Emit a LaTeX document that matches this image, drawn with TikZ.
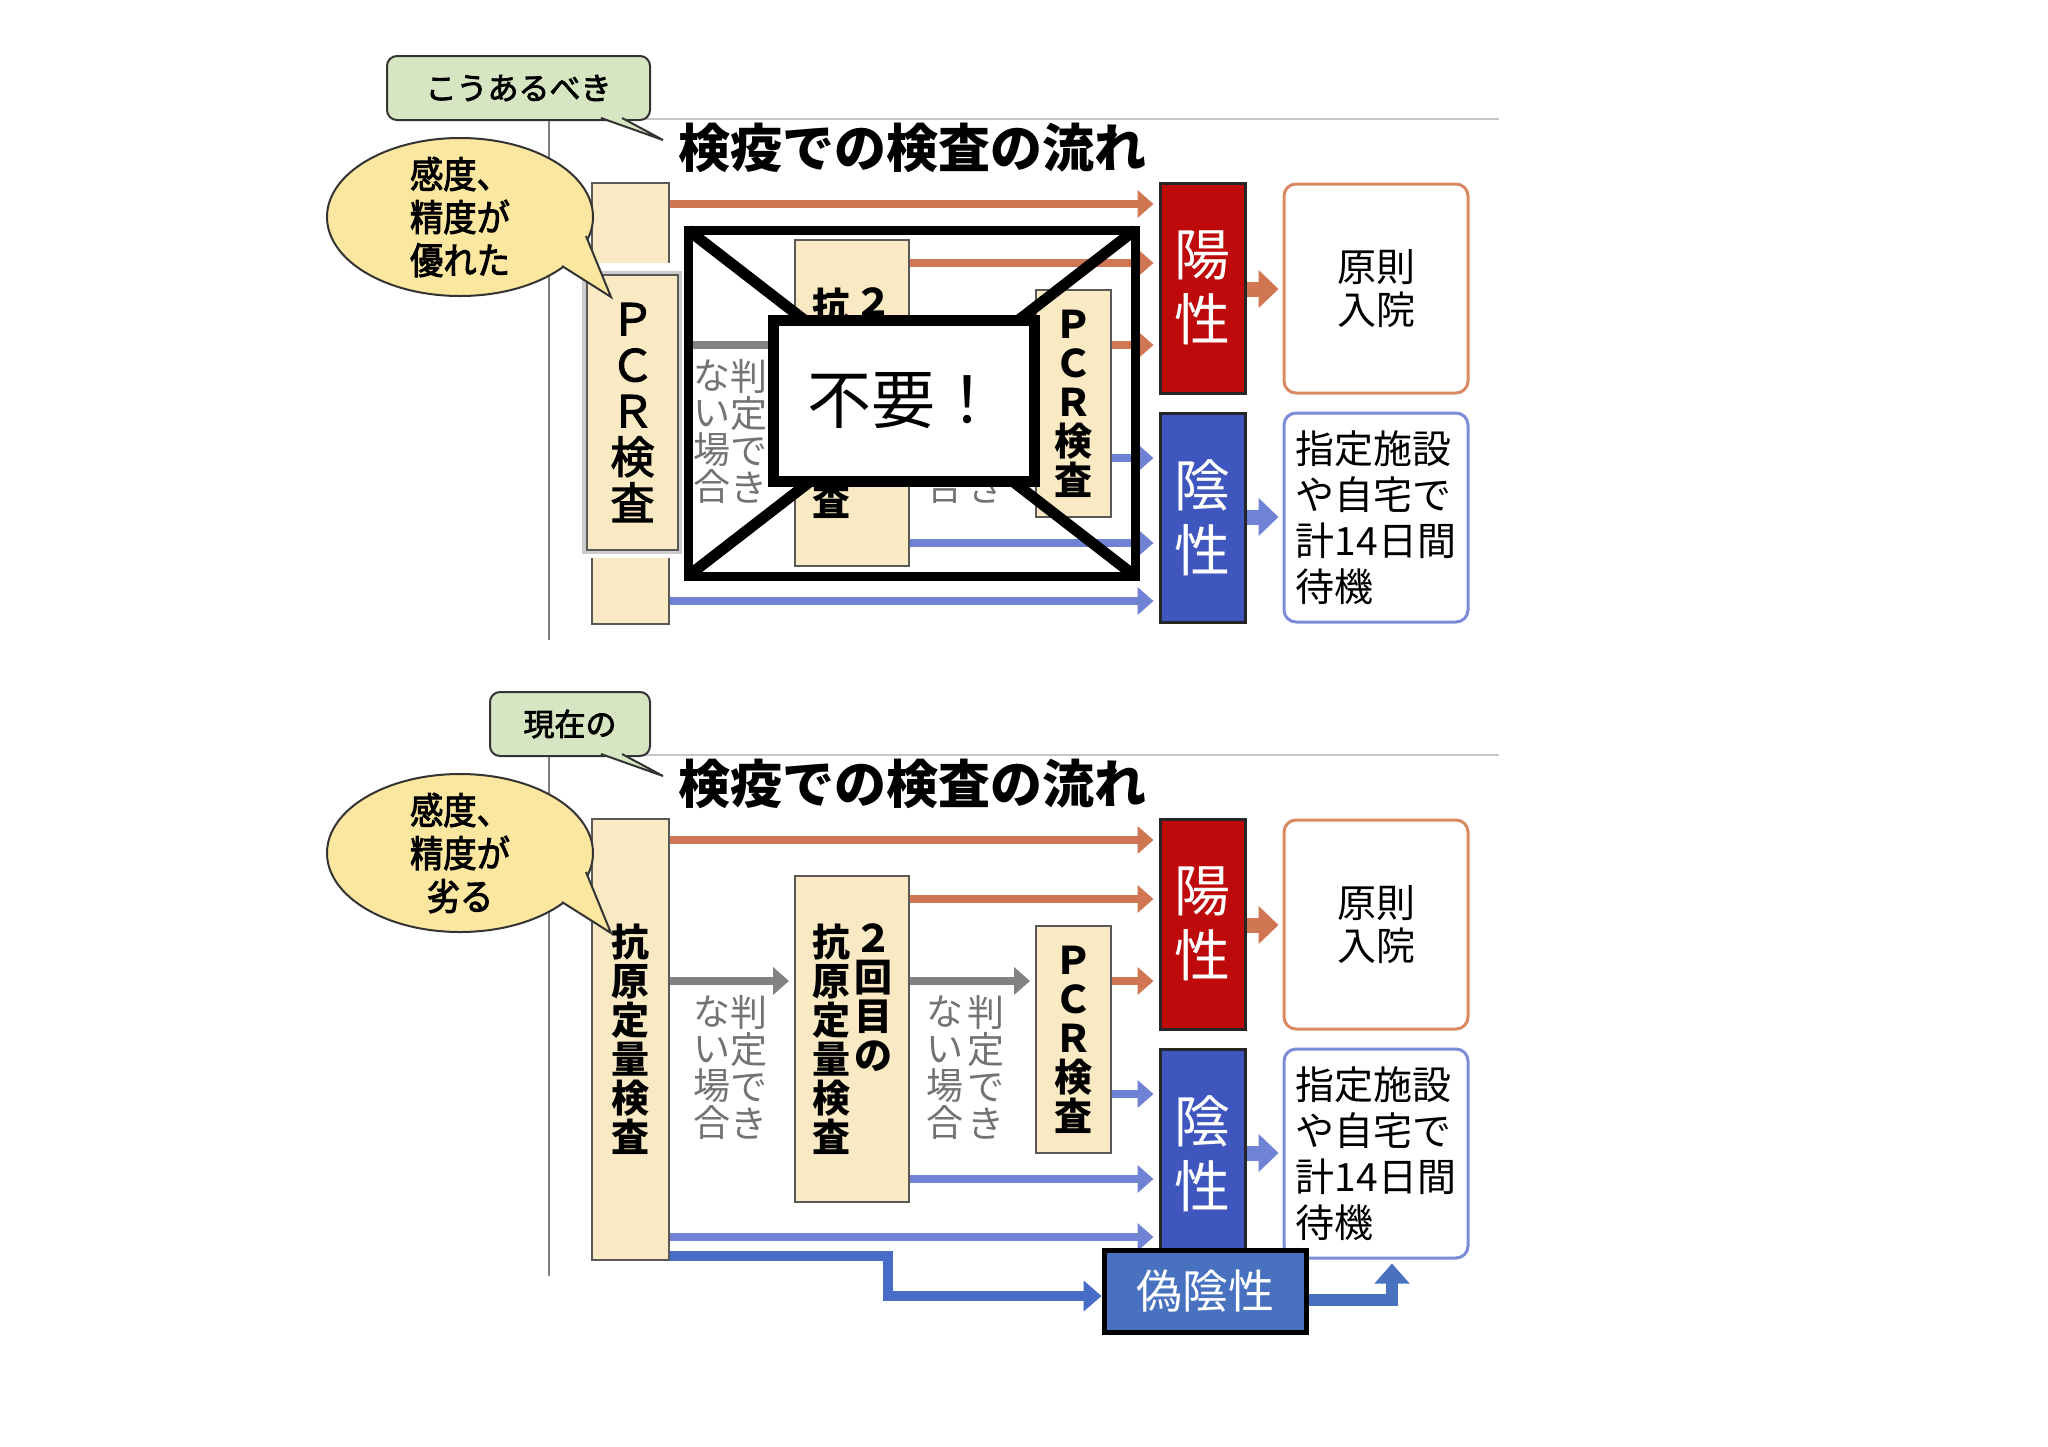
\documentclass[tikz,border=0pt]{standalone}
\usepackage{fontspec}
\newfontfamily\jp{Noto Sans CJK JP}
\newfontfamily\jpm{Noto Sans CJK JP}[FakeBold=2.5]
\newfontfamily\jpc{Noto Sans CJK JP}[FakeBold=2.5,FakeStretch=0.9]
\usetikzlibrary{arrows.meta,shapes.geometric}
\definecolor{orng}{RGB}{208,118,82}
\definecolor{blu}{RGB}{112,130,212}
\definecolor{gry}{RGB}{130,130,130}
\definecolor{beige}{RGB}{249,234,196}
\definecolor{posred}{RGB}{190,10,10}
\definecolor{negblue}{RGB}{62,86,190}
\definecolor{fnblue}{RGB}{72,114,192}
\definecolor{steparr}{RGB}{70,108,200}
\definecolor{callg}{RGB}{214,229,194}
\definecolor{bubbley}{RGB}{251,231,160}
\definecolor{boxorng}{RGB}{217,138,98}
\definecolor{boxblue}{RGB}{125,140,215}
\tikzset{
  gline/.style={draw=black!22, line width=0.6pt},
  vline/.style={draw=black!50, line width=0.8pt},
  callbox/.style={draw=black!80, fill=callg, line width=1pt, rounded corners=5pt, minimum height=32pt, font=\jpm\fontsize{15.5}{18}\selectfont, inner sep=0pt},
  cedge/.style={draw=black!80, line width=1pt},
  bubb/.style={draw=black!80, fill=bubbley, line width=1pt, ellipse, inner sep=0pt},
  bubtext/.style={font=\jpc\fontsize{18.5}{21.5}\selectfont, align=center, inner sep=0pt},
  ttl/.style={font=\jp\bfseries\fontsize{26}{28}\selectfont, inner sep=0pt},
  bbox/.style={draw=black!65, fill=beige, line width=1pt, inner sep=0pt},
  vtext/.style={font=\jp\bfseries\fontsize{19}{19.5}\selectfont, align=center, inner sep=0pt},
  gtext/.style={font=\jp\fontsize{18.5}{18.5}\selectfont, text=black!55, align=center, inner sep=0pt, anchor=north},
  arrbase/.style={line width=4pt, shorten >=2.5pt, -{Triangle[length=8pt,width=13.5pt]}},
  oarr/.style={arrbase, draw=orng, color=orng},
  barr/.style={arrbase, draw=blu, color=blu},
  garr/.style={arrbase, draw=gry, color=gry},
  fatarr/.style={line width=7.5pt, shorten >=2pt, -{Triangle[length=10pt,width=18.5pt]}},
  resbox/.style={draw=black!85, line width=1.5pt, text=white, font=\jp\fontsize{28}{32.5}\selectfont, align=center, minimum width=42.5pt, inner sep=0pt},
  outbox/.style={line width=1.5pt, rounded corners=6pt, minimum width=92pt, minimum height=104.5pt, align=left, font=\jp\fontsize{19.5}{23}\selectfont, inner sep=0pt},
  xline/.style={draw=black, line width=4.5pt},
  xdiag/.style={draw=black, line width=5.5pt},
}
\newcommand\flowchart[4]{%
  \draw[gline] (549,755) -- (1499,755);
  \draw[vline] (549,755) -- (549,1276);
  % callout
  \node[callbox, minimum width=#3, anchor=north east] (#1call) at (651,691) {#2};
  \fill[callg] (601,748) -- (601,754) -- (663,776) -- (622,754) -- (622,748) -- cycle;
  \draw[cedge] (601,754) -- (663,776) -- (622,754);
  % title
  \node[ttl] (#1title) at (912,784) {検疫での検査の流れ};
  % boxes
  \node[bbox, minimum width=38.5pt, minimum height=220.5pt] (#1L) at (630.5,1039.5) {};
  \node[vtext] (#1Lt) at (#1L.center) {#4};
  \node[bbox, minimum width=57pt, minimum height=163pt] (#1B) at (852,1039) {};
  \node[vtext] (#1Ba) at (831,1039) {抗\\原\\定\\量\\検\\査};
  \node[vtext, anchor=north] (#1Bb) at (#1Ba.north -| 873,0) {２\\回\\目\\の};
  \node[bbox, minimum width=37.5pt, minimum height=113.5pt] (#1P) at (1073.5,1039.5) {};
  \node[vtext] (#1Pt) at (#1P.center) {Ｐ\\Ｃ\\Ｒ\\検\\査};
  \node[gtext] (#1ja) at (749,995) {判\\定\\で\\き};
  \node[gtext] (#1jb) at (712,995) {な\\い\\場\\合};
  \node[gtext] (#1jc) at (986,995) {判\\定\\で\\き};
  \node[gtext] (#1jd) at (945,995) {な\\い\\場\\合};
  % results
  \node[resbox, fill=posred, minimum height=105pt] (#1pos) at (1202.5,924) {陽\\性};
  \node[resbox, fill=negblue, minimum height=104.5pt] (#1neg) at (1202.5,1153.5) {陰\\性};
  \node[outbox, draw=boxorng, align=center, font=\jp\fontsize{19.5}{21.5}\selectfont] (#1hosp) at (1376,924.5) {原則\\入院};
  \node[outbox, draw=boxblue] (#1wait) at (1376,1153.5) {指定施設\\や自宅で\\計14日間\\待機};
  % arrows
  \draw[oarr] (#1L.east |- 0,840) -- (#1pos.west |- 0,840);
  \draw[oarr] (#1B.east |- 0,899) -- (#1pos.west |- 0,899);
  \draw[oarr] (#1P.east |- 0,981) -- (#1pos.west |- 0,981);
  \draw[garr] (#1L.east |- 0,981) -- (#1B.west |- 0,981);
  \draw[garr] (#1B.east |- 0,981) -- (#1P.west |- 0,981);
  \draw[barr] (#1P.east |- 0,1094) -- (#1neg.west |- 0,1094);
  \draw[barr] (#1B.east |- 0,1179) -- (#1neg.west |- 0,1179);
  \draw[barr] (#1L.east |- 0,1237) -- (#1neg.west |- 0,1237);
  \draw[fatarr, draw=orng, color=orng] (#1pos.east |- 0,925) -- (#1hosp.west |- 0,925);
  \draw[fatarr, draw=blu, color=blu] (#1neg.east |- 0,1153) -- (#1wait.west |- 0,1153);
}
\newcommand\speech[2]{%
  \node[bubb, minimum width=133pt, minimum height=79pt] (#1bub) at (460,853) {};
  \fill[bubbley] (586,872) -- (611,933) -- (562,902) -- (550,880) -- (575,862) -- cycle;
  \draw[cedge] (586,872) -- (611,933) -- (562,902);
  \node[bubtext] (#1bubt) at (#1bub.center) {#2};
}
\begin{document}
\begin{tikzpicture}[x=0.5pt,y=-0.5pt]
\useasboundingbox (0,0) rectangle (2048,1446);
\fill[white] (0,0) rectangle (2048,1446);
% ---------- top: how it should be ----------
\begin{scope}[shift={(0,-636)}]
  \flowchart{t}{こうあるべき}{131.5pt}{}
  % PCR overlay on the first box
  \fill[white] (577,899) rectangle (687,1194);
  \draw[black!20, line width=3pt] (585,910) rectangle (679,1187);
  \node[bbox, minimum width=45.5pt, minimum height=137.5pt] (tPO) at (632.5,1048.5) {};
  \node[font=\jpm\fontsize{22}{23}\selectfont, align=center, inner sep=0pt] (tPOt) at (tPO.center) {Ｐ\\Ｃ\\Ｒ\\検\\査};
  \speech{t}{感度、\\精度が\\優れた}
  % cross-out
  \coordinate (xa) at (688,866);
  \coordinate (xb) at (1135,866);
  \coordinate (xc) at (1135,1212);
  \coordinate (xd) at (688,1212);
  \draw[xdiag] (xa) -- (xc);
  \draw[xdiag] (xd) -- (xb);
  \draw[xline] (xa) -- (xb) -- (xc) -- (xd) -- cycle;
  \node[draw=black, fill=white, line width=5.5pt, minimum width=130.5pt, minimum height=80.5pt, inner sep=0pt, font=\jp\fontsize{32}{34}\selectfont] (tNG) at (903.5,1036.5) {不要！};
\end{scope}
% ---------- bottom: current ----------
\flowchart{b}{現在の}{80pt}{抗\\原\\定\\量\\検\\査}
\speech{b}{感度、\\精度が\\劣る}
\node[draw=black, fill=fnblue, line width=2.5pt, minimum width=101pt, minimum height=41pt, inner sep=0pt, text=white, font=\jp\fontsize{23}{25}\selectfont] (fn) at (1205,1291) {偽陰性};
\draw[draw=steparr, color=steparr, line width=5pt, -{Triangle[length=9pt,width=15pt]}] (bL.east |- 0,1256) -- (888,1256) -- (888,1296) -- (fn.west |- 0,1296);
\draw[draw=fnblue, color=fnblue, line width=6pt, shorten >=2pt, -{Triangle[length=10pt,width=17pt]}] (fn.east |- 0,1300) -- (1392,1300) -- (1392,0 |- bwait.south);
\end{tikzpicture}
\end{document}
